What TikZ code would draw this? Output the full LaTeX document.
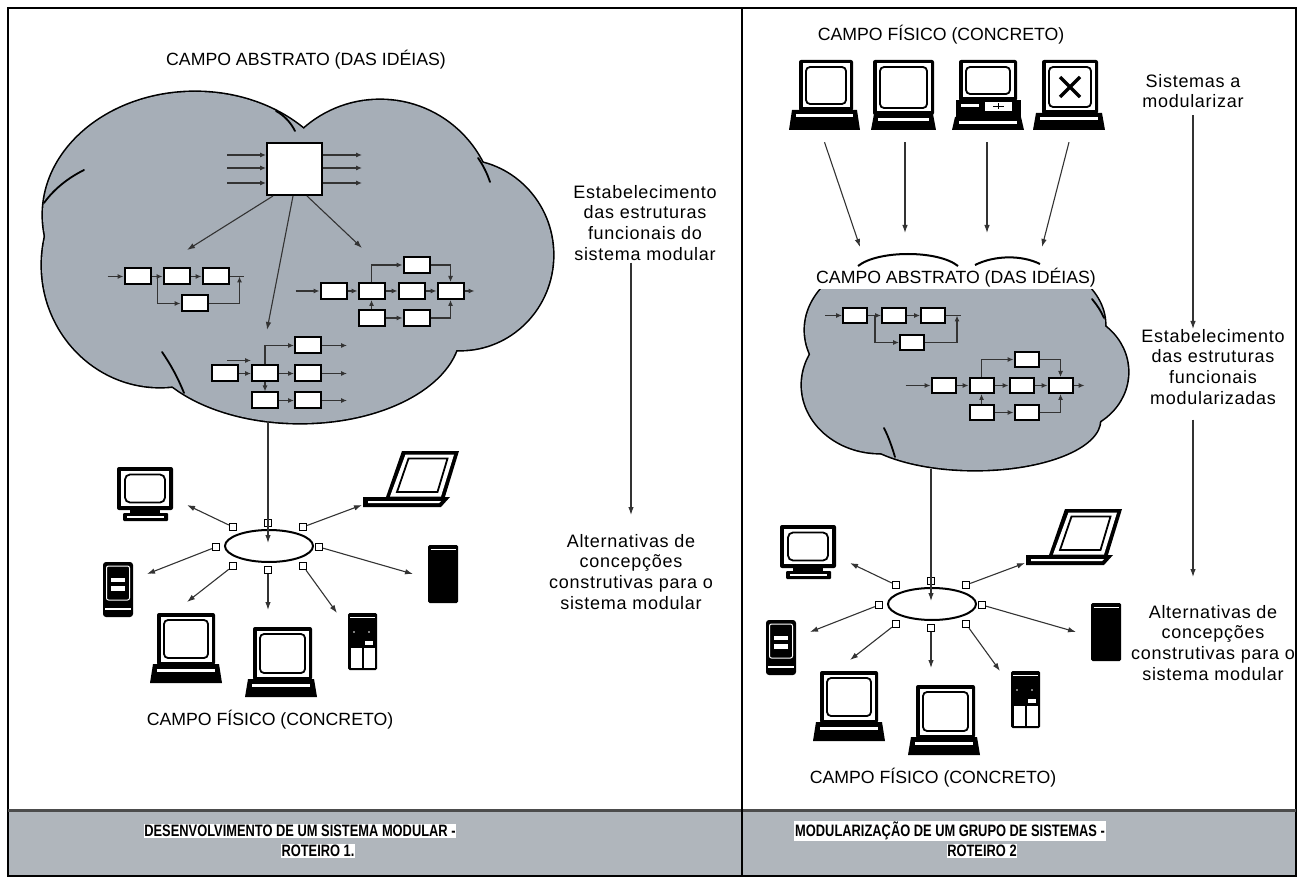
\documentclass[tikz,border=0pt]{standalone}
\usepackage{fontspec}
\setmainfont{Liberation Sans}
\newfontfamily\descfont[LetterSpace=4.0]{Liberation Sans}
\newfontfamily\bandfont[FakeStretch=0.78]{Liberation Sans}
\usetikzlibrary{arrows.meta,shapes.geometric,calc}

\definecolor{cloudgray}{RGB}{166,174,183}
\definecolor{bandgray}{RGB}{176,182,188}

\tikzset{
  conn/.style={line width=1.1pt, draw=black!80, -{Latex[length=8pt,width=5.5pt]}},
  sarr/.style={line width=1.1pt, draw=black!80, -{Latex[length=6pt,width=5pt]}},
  sline/.style={line width=1.1pt, draw=black!80},
  blk/.style={draw, fill=white, line width=2pt, minimum width=26pt, minimum height=16pt, inner sep=0pt},
  sblk/.style={blk, minimum width=24pt, minimum height=15pt},
  port/.style={draw, fill=white, line width=1.3pt, minimum size=7pt, inner sep=0pt},
  cloudedge/.style={line width=3.2pt},
  crease/.style={line width=1.8pt, line cap=round},
  title/.style={font=\fontsize{17.7}{20}\selectfont, inner sep=1pt},
  desc/.style={font=\descfont\fontsize{18}{20.7}\selectfont, align=center, inner sep=0pt},
  band/.style={font=\bandfont\bfseries\fontsize{16.5}{18}\selectfont, fill=white, inner sep=0.8pt},
}

% monitor with thick casing and rounded screen: corners (x1,y1) (x2,y2)
\newcommand{\drawmonitor}[4]{%
  \fill[black,rounded corners=2pt] (#1,#2) rectangle (#3,#4);
  \fill[white] ($(#1,#2)+(3.5,3.5)$) rectangle ($(#3,#4)+(-3.5,-3.5)$);
  \draw[line width=1.8pt,rounded corners=4pt] ($(#1,#2)+(7,7)$) rectangle ($(#3,#4)+(-7,-7)$);
}
% keyboard / desk base under a monitor
\newcommand{\drawkbase}[4]{%
  \fill[black] ($(#1,#2)+(3,0)$) -- ($(#3,#2)+(-3,0)$) -- (#3,#4) -- (#1,#4) -- cycle;
  \fill[white] ($(#1,#2)+(7,4.5)$) rectangle ($(#3,#2)+(-7,7.5)$);
}

% chain of four blocks with a bypass
\newcommand{\blocksA}[4]{%
\begin{scope}[shift={(#2,#3)}]
  \node[#4] (#1a1) at (0,0) {};
  \node[#4] (#1a2) at (39,0) {};
  \node[#4] (#1a3) at (78,0) {};
  \node[#4] (#1a4) at (57,27) {};
  \coordinate (#1in) at (-30,0);
  \coordinate (#1j) at (20,0);
  \coordinate (#1o) at (102,0);
  \coordinate (#1e) at (106,0);
  \draw[sarr] (#1in) -- (#1a1);
  \draw[sarr] (#1a1) -- (#1a2);
  \draw[sarr] (#1a2) -- (#1a3);
  \draw[sline] (#1a3) -- (#1e);
  \draw[sarr] (#1j) |- (#1a4);
  \draw[sarr] (#1a4) -| (#1o);
\end{scope}}

% seven-block structure with feed paths above and below
\newcommand{\blocksB}[4]{%
\begin{scope}[shift={(#2,#3)}]
  \node[#4] (#1b1) at (0,0) {};
  \node[#4] (#1b2) at (38,0) {};
  \node[#4] (#1b3) at (78,0) {};
  \node[#4] (#1b4) at (117,0) {};
  \node[#4] (#1b5) at (83,-26) {};
  \node[#4] (#1b6) at (38,27) {};
  \node[#4] (#1b7) at (83,27) {};
  \coordinate (#1in) at (-38,0);
  \coordinate (#1out) at (141,0);
  \draw[sarr] (#1in) -- (#1b1);
  \draw[sarr] (#1b1) -- (#1b2);
  \draw[sarr] (#1b2) -- (#1b3);
  \draw[sarr] (#1b3) -- (#1b4);
  \draw[sarr] (#1b4) -- (#1out);
  \draw[sarr] (#1b2.north) |- (#1b5);
  \draw[sarr] (#1b5) -| (#1b4.north);
  \draw[sarr] (#1b6) -- (#1b2);
  \draw[sarr] (#1b6) -- (#1b7);
  \draw[sarr] (#1b7) -| (#1b4.south);
\end{scope}}

% ring network with the seven machines around it
\newcommand{\netcluster}[3]{%
\begin{scope}[shift={(#2,#3)}]
  % CRT monitor on a stand
  \fill[black,rounded corners=2pt] (117,467) rectangle (173,510);
  \fill[white] (121,471) rectangle (169,506);
  \draw[line width=1.8pt,rounded corners=5pt] (125,474.5) rectangle (165,502.5);
  \fill[black] (130,510) rectangle (160,514);
  \fill[black,rounded corners=1pt] (123,513) rectangle (168,521);
  \fill[white] (127,515.5) rectangle (164,517.5);
  % laptop
  \fill[black] (402,451) -- (459,451) -- (444,500) -- (385,500) -- cycle;
  \fill[white] (405.5,454.5) -- (454,454.5) -- (441,496.5) -- (390,496.5) -- cycle;
  \draw[line width=1.8pt] (408.5,458.5) -- (447.5,458.5) -- (437.5,492) -- (397,492) -- cycle;
  \fill[black] (363,497) -- (450,497) -- (441,507) -- (363,507) -- cycle;
  \fill[white] (368,501) -- (441,501) -- (439,503) -- (368,503) -- cycle;
  % tower with drive bays
  \fill[black,rounded corners=3pt] (103,562) rectangle (133,617);
  \draw[white,line width=1pt,rounded corners=2pt] (106.5,566) rectangle (129.5,600);
  \fill[white] (111,578) rectangle (125,581.5);
  \fill[white] (111,586) rectangle (125,590.5);
  \fill[white] (105,608) rectangle (131,610);
  % black tower
  \fill[black,rounded corners=1.5pt] (428,545) rectangle (458,603);
  \draw[white,line width=0.8pt] (430.5,549) -- (455.5,549);
  % desktop monitors
  \drawmonitor{157}{613}{215}{665}
  \drawkbase{150}{664}{222}{683}
  \drawmonitor{253}{627}{312}{680}
  \drawkbase{245}{679}{317}{697}
  % small tower
  \fill[black,rounded corners=1.5pt] (348,613) rectangle (377,670);
  \draw[white,line width=0.8pt] (350,617) -- (375,617);
  \fill[white] (365,640.5) rectangle (373,644.5);
  \fill[white] (351,648) rectangle (361.5,668);
  \fill[white] (364,648) rectangle (375,668);
  \fill[white] (354,632) circle (0.9) (369,632) circle (0.9);
  % arrow targets beside the machines
  \coordinate (#1tTL) at (187,505);
  \coordinate (#1tLap) at (362,505);
  \coordinate (#1tTw) at (147,574);
  \coordinate (#1tBk) at (413,574);
  \coordinate (#1tBL) at (187,602);
  \coordinate (#1tB) at (268,610);
  \coordinate (#1tST) at (337,613);
  \coordinate (#1in) at (268,543);
  % ring and its ports
  \node[draw, ellipse, line width=2pt, minimum width=88pt, minimum height=32pt, inner sep=0pt] (#1ring) at (269,546) {};
  \node[port] (#1p1) at (268,523) {};
  \node[port] (#1p2) at (233,527) {};
  \node[port] (#1p3) at (303,527) {};
  \node[port] (#1p4) at (216,547) {};
  \node[port] (#1p5) at (319,547) {};
  \node[port] (#1p6) at (233,566) {};
  \node[port] (#1p7) at (268,570) {};
  \node[port] (#1p8) at (303,566) {};
  \draw[conn] (#1p2) -- (#1tTL);
  \draw[conn] (#1p3) -- (#1tLap);
  \draw[conn] (#1p4) -- (#1tTw);
  \draw[conn] (#1p5) -- (#1tBk);
  \draw[conn] (#1p6) -- (#1tBL);
  \draw[conn] (#1p7) -- (#1tB);
  \draw[conn] (#1p8) -- (#1tST);
  \node[title] (#1lbl) at (270,720) {CAMPO FÍSICO (CONCRETO)};
\end{scope}}

\begin{document}
\begin{tikzpicture}[x=1pt,y=-1pt]
\useasboundingbox (0,0) rectangle (1304,882);

% frame, caption band and panel divider
\fill[bandgray] (8,810) rectangle (1296,876);
\draw[line width=2pt] (8,8) rectangle (1296,876);
\draw[line width=3pt, black!70] (8,810) -- (1296,810);
\draw[line width=1.5pt] (742,8) -- (742,876);

% ===================== left panel =====================
\node[title] (labs) at (306,60) {CAMPO ABSTRATO (DAS IDÉIAS)};

% cloud
\foreach \cx/\cy/\rx/\ry in {195/215/152/123, 380/215/115/115, 460/255/93/95, 300/330/160/93, 160/265/118/122}
  \draw[cloudedge] (\cx,\cy) ellipse [x radius=\rx, y radius=\ry];
\foreach \cx/\cy/\rx/\ry in {195/215/152/123, 380/215/115/115, 460/255/93/95, 300/330/160/93, 160/265/118/122}
  \fill[cloudgray] (\cx,\cy) ellipse [x radius=\rx, y radius=\ry];
\draw[crease] (276,111) .. controls (285,116) and (291,123) .. (295,131);
\draw[crease] (478,158) .. controls (483,165) and (487,173) .. (490,182);
\draw[crease] (84,170) .. controls (68,178) and (54,189) .. (44,203);
\draw[crease] (162,352) .. controls (171,365) and (178,378) .. (184,393);

% overall system block
\node[draw, fill=white, line width=2pt, minimum width=55pt, minimum height=52pt, inner sep=0pt] (big) at (294.5,169) {};
\foreach \k/\yy in {1/155, 2/168, 3/183} {
  \coordinate (bin\k) at (227,\yy);
  \coordinate (bout\k) at (362,\yy);
  \draw[sarr] (bin\k) -- (bin\k -| big.west);
  \draw[sarr] (bout\k -| big.east) -- (bout\k);
}
\coordinate (lgA) at (187,250);
\coordinate (lgC) at (267,330);
\coordinate (lgB) at (362,248);
\draw[conn] ([xshift=-21.5pt]big.south) -- (lgA);
\draw[conn] ([xshift=-1.5pt]big.south) -- (lgC);
\draw[conn] ([xshift=12.5pt]big.south) -- (lgB);

% function structures
\blocksA{la}{137.5}{276.5}{blk}
\blocksB{lb}{333.5}{291}{blk}
\begin{scope}[shift={(225,373.5)}]
  \node[blk] (lcc1) at (0,0) {};
  \node[blk] (lcc2) at (40,0) {};
  \node[blk] (lcc3) at (83,-28) {};
  \node[blk] (lcc4) at (83,0) {};
  \node[blk] (lcc5) at (83,27) {};
  \node[blk] (lcc6) at (40,27) {};
  \coordinate (lccs) at (2,-13);
  \coordinate (lcct) at (26,-13);
  \coordinate (lcco3) at (122,-28);
  \coordinate (lcco4) at (122,0);
  \coordinate (lcco5) at (122,27);
  \draw[sarr] (lccs) -- (lcct);
  \draw[sarr] (lcc1) -- (lcc2);
  \draw[sarr] (lcc2) -- (lcc4);
  \draw[sarr] (lcc2.north) |- (lcc3);
  \draw[sarr] (lcc2) -- (lcc6);
  \draw[sarr] (lcc6) -- (lcc5);
  \draw[sarr] (lcc3) -- (lcco3);
  \draw[sarr] (lcc4) -- (lcco4);
  \draw[sarr] (lcc5) -- (lcco5);
\end{scope}

% physical field
\netcluster{ln}{0}{0}
\coordinate (lcb) at (268,421);
\draw[conn] (lcb) -- (lnin);

% process notes
\node[desc, anchor=north] (ldescA) at (645,185) {Estabelecimento\\das estruturas\\funcionais do\\sistema modular};
\node[desc, anchor=north] (ldescB) at (631,534) {Alternativas de\\concepções\\construtivas para o\\sistema modular};
\draw[conn, shorten <=2pt, shorten >=19pt] (ldescA.south -| ldescB.north) -- (ldescB.north);

% ===================== right panel =====================
\node[title] (rfis) at (941,35) {CAMPO FÍSICO (CONCRETO)};

% systems to be modularised
\drawmonitor{799}{60}{853}{111}
\drawkbase{789}{110}{860}{130}
\drawmonitor{873}{60}{934}{115}
\drawkbase{871}{114}{936}{130}
\drawmonitor{959}{60}{1017}{101}
\fill[black] (956,100) rectangle (1021,117);
\fill[white] (961,104) rectangle (979,107);
\fill[white] (985,102) rectangle (1012,111);
\draw[line width=1.5pt] (993,106.5) -- (1004,106.5) (998.5,103.5) -- (998.5,109.5);
\drawkbase{952}{117}{1024}{130}
\drawmonitor{1042}{60}{1098}{114}
\draw[line width=3.5pt] (1060,77) -- (1080,97) (1080,77) -- (1060,97);
\drawkbase{1033}{113}{1105}{130}
\node[inner sep=0pt, minimum width=71pt, minimum height=70pt] (pc1) at (824.5,95) {};
\node[inner sep=0pt, minimum width=65pt, minimum height=70pt] (pc2) at (903.5,95) {};
\node[inner sep=0pt, minimum width=72pt, minimum height=70pt] (pc3) at (988,95) {};
\node[inner sep=0pt, minimum width=72pt, minimum height=70pt] (pc4) at (1069,95) {};
\coordinate (rcin1) at (860,247);
\coordinate (rcin2) at (905,233);
\coordinate (rcin3) at (987,233);
\coordinate (rcin4) at (1042,247);
\draw[conn] ([yshift=-12pt]pc1.south) -- (rcin1);
\draw[conn] ([yshift=-12pt,xshift=1.5pt]pc2.south) -- (rcin2);
\draw[conn] ([yshift=-12pt,xshift=-1pt]pc3.south) -- (rcin3);
\draw[conn] ([yshift=-12pt]pc4.south) -- (rcin4);

% cloud of the modularised structures
\foreach \cx/\cy/\rx/\ry in {905/330/100/75, 1010/325/95/68, 880/385/78/68, 1062/372/66/60, 975/420/125/50}
  \draw[cloudedge] (\cx,\cy) ellipse [x radius=\rx, y radius=\ry];
\foreach \cx/\cy/\rx/\ry in {905/330/100/75, 1010/325/95/68, 880/385/78/68, 1062/372/66/60, 975/420/125/50}
  \fill[cloudgray] (\cx,\cy) ellipse [x radius=\rx, y radius=\ry];
\draw[crease] (1092,299) .. controls (1097,305) and (1101,311) .. (1104,318);
\draw[crease] (884,428) .. controls (889,438) and (892,447) .. (895,457);
\fill[white] (812,250) rectangle (1102,289);
\draw[line width=2pt] (858,266) .. controls (878,250) and (938,250) .. (958,266);
\draw[line width=2pt] (975,265) .. controls (995,255) and (1022,255) .. (1040,264);
\node[title] (rabs) at (956,278) {CAMPO ABSTRATO (DAS IDÉIAS)};

\blocksA{ra}{855}{315.5}{sblk}
\blocksB{rb}{943.5}{385.5}{sblk}

\netcluster{rn}{663}{58}
\coordinate (rcb) at (931,469);
\draw[conn] (rcb) -- (rnin);

% process notes
\node[desc, anchor=north] (rsys) at (1193,74) {Sistemas a\\modularizar};
\node[desc, anchor=north] (restab) at (1213,329) {Estabelecimento\\das estruturas\\funcionais\\modularizadas};
\node[desc, anchor=north] (ralt) at (1213,605) {Alternativas de\\concepções\\construtivas para o\\sistema modular};
\draw[conn, shorten <=7pt] (rsys.south) -- (restab.north -| rsys.south);
\draw[conn, shorten <=15pt, shorten >=28pt] (restab.south -| rsys.south) -- (ralt.north -| rsys.south);

% ===================== captions =====================
\node[band] (bandL1) at (300,831) {DESENVOLVIMENTO DE UM SISTEMA MODULAR -};
\node[band] (bandL2) at (318,851) {ROTEIRO 1.};
\node[band] (bandR1) at (950,831) {MODULARIZAÇÃO DE UM GRUPO DE SISTEMAS -};
\node[band] (bandR2) at (982,851) {ROTEIRO 2};
\end{tikzpicture}
\end{document}
